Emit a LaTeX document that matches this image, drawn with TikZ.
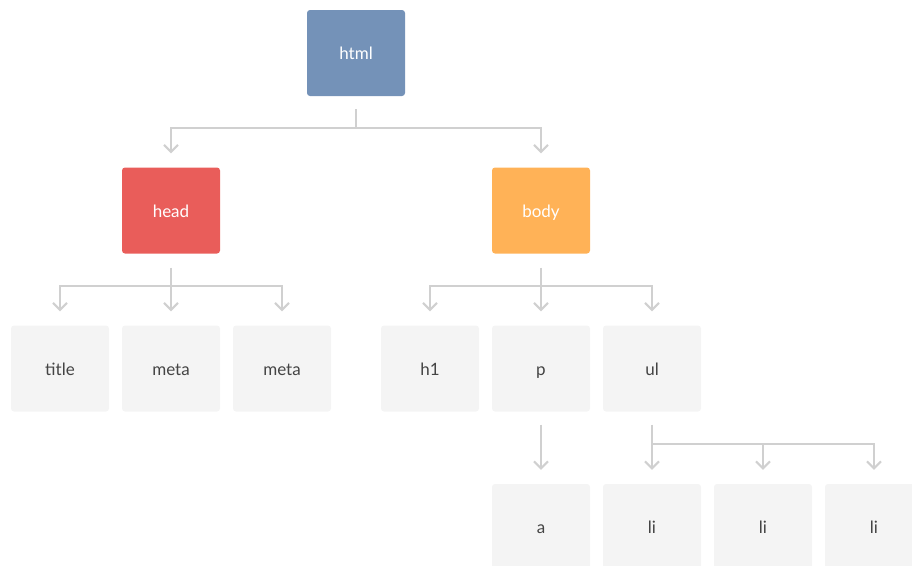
\documentclass[tikz,border=0pt]{standalone}
\usepackage{fontspec}
\setmainfont{Lato}
\usetikzlibrary{arrows.meta}
\definecolor{htmlc}{HTML}{7492B8}
\definecolor{headc}{HTML}{E95D5A}
\definecolor{bodyc}{HTML}{FFB257}
\definecolor{leafc}{HTML}{F4F4F4}
\definecolor{linec}{HTML}{D0D0D0}
\definecolor{txtc}{HTML}{444444}
\tikzset{
  tag/.style={rounded corners=3pt, minimum width=98pt, minimum height=86pt, inner sep=0pt, text height=13pt, text depth=0pt, font=\fontsize{17}{19}\selectfont},
  colbox/.style={tag, text=white},
  leaf/.style={tag, fill=leafc, text=txtc},
  conn/.style={draw=linec, line width=2pt},
  arr/.style={conn, -{Straight Barb[length=7pt,width=14pt,line width=2pt]}}
}
\begin{document}
\begin{tikzpicture}[x=1pt,y=-1pt]
\useasboundingbox (0,0) rectangle (912,565);
\begin{scope}
\clip (0,0) rectangle (912,565);
\node[colbox, fill=htmlc] (html) at (356,53) {html};
\node[colbox, fill=headc] (head) at (171,210.5) {head};
\node[colbox, fill=bodyc] (body) at (541,210.5) {body};
\node[leaf] (title) at (60,368.5) {title};
\node[leaf] (meta1) at (171,368.5) {meta};
\node[leaf] (meta2) at (282,368.5) {meta};
\node[leaf] (h1) at (430,368.5) {h1};
\node[leaf] (p) at (541,368.5) {p};
\node[leaf] (ul) at (652,368.5) {ul};
\node[leaf] (a) at (541,527) {a};
\node[leaf] (li1) at (652,527) {li};
\node[leaf] (li2) at (763,527) {li};
\node[leaf] (li3) at (874,527) {li};
\end{scope}
% html children
\coordinate (hj) at (356,128);
\draw[conn] ([yshift=-13pt]html.south) -- (hj);
\draw[arr] (hj) -| ([yshift=14pt]head.north);
\draw[arr] (hj) -| ([yshift=14pt]body.north);
% head children
\coordinate (hdj) at (171,286);
\draw[arr] ([yshift=-14pt]head.south) -- ([yshift=14pt]meta1.north);
\draw[arr] (hdj) -| ([yshift=14pt]title.north);
\draw[arr] (hdj) -| ([yshift=14pt]meta2.north);
% body children
\coordinate (bj) at (541,286);
\draw[arr] ([yshift=-14pt]body.south) -- ([yshift=14pt]p.north);
\draw[arr] (bj) -| ([yshift=14pt]h1.north);
\draw[arr] (bj) -| ([yshift=14pt]ul.north);
% p child
\draw[arr] ([yshift=-13pt]p.south) -- ([yshift=14pt]a.north);
% ul children
\coordinate (uj) at (652,444);
\draw[arr] ([yshift=-13pt]ul.south) -- ([yshift=14pt]li1.north);
\draw[arr] (uj) -| ([yshift=14pt]li2.north);
\draw[arr] (uj) -| ([yshift=14pt]li3.north);
\end{tikzpicture}
\end{document}
